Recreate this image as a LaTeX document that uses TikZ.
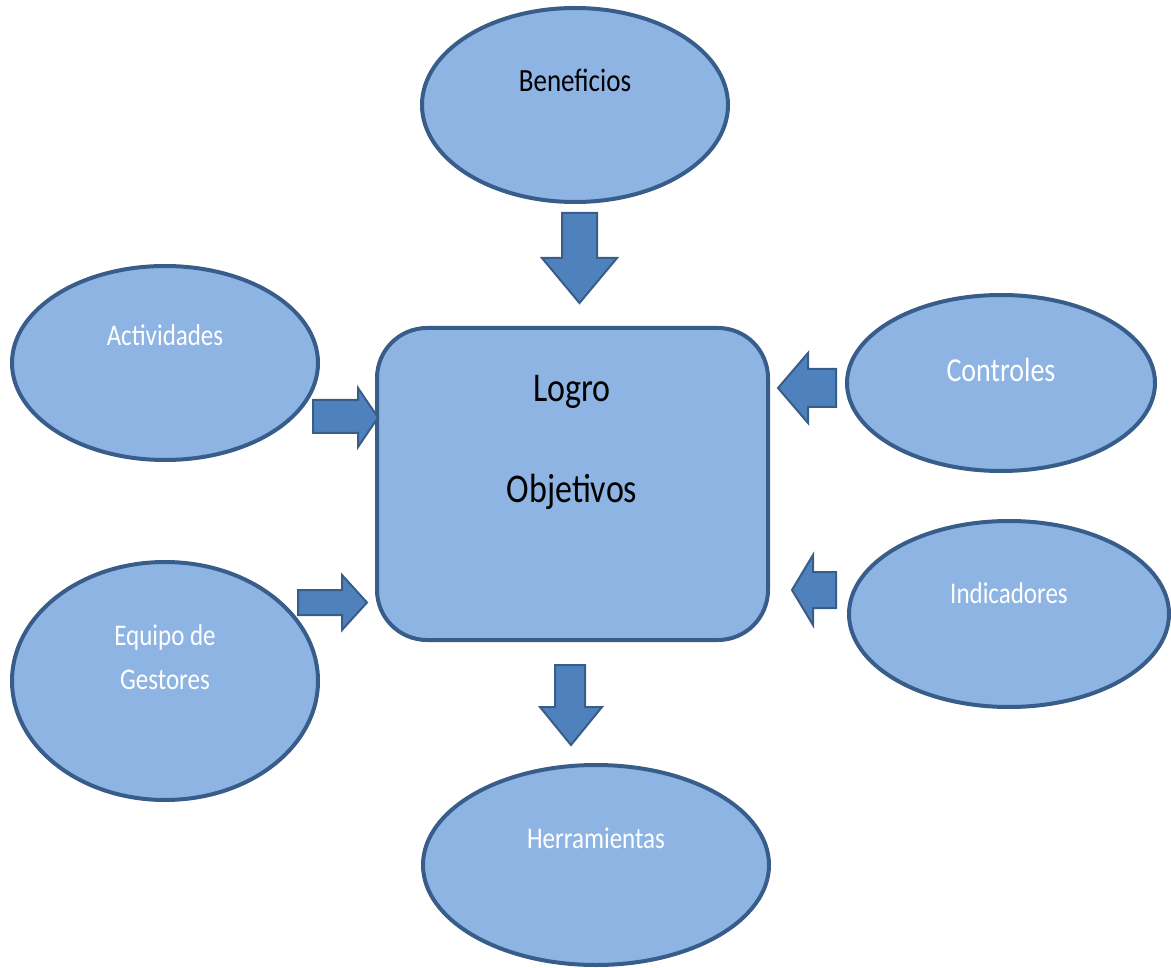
\documentclass[tikz,border=0pt]{standalone}
\usepackage{fontspec}
\setmainfont{Carlito}
\usetikzlibrary{shapes.geometric}
\definecolor{bubblefill}{HTML}{8EB4E3}
\definecolor{bubbleline}{HTML}{385D8A}
\definecolor{arrowfill}{HTML}{4F81BD}
\newcommand{\tall}[1]{\scalebox{1}[1.2]{#1}}
\tikzset{
  bubble/.style={ellipse, draw=bubbleline, fill=bubblefill, line width=4pt, inner sep=0pt},
  hub/.style={rectangle, rounded corners=50pt, draw=bubbleline, fill=bubblefill, line width=4pt, inner sep=0pt},
  whitetxt/.style={text=white, font=\fontsize{25}{30}\selectfont, align=center},
  blacktxt/.style={text=black, font=\fontsize{27}{32}\selectfont, align=center},
  hubtxt/.style={text=black, font=\fontsize{34}{40}\selectfont},
  blockarrow/.style={draw=bubbleline, fill=arrowfill, line width=2pt, line join=miter}
}
\begin{document}
\begin{tikzpicture}[x=1pt, y=-1pt]
\useasboundingbox (0,0) rectangle (1171,968);

% central box
\node[hub, minimum width=391pt, minimum height=312pt] (hub) at (572.5,484) {};
\node[hubtxt] (logro) at (572,392) {\tall{Logro}};
\node[hubtxt] (obj) at (572,492) {\tall{Objetivos}};

% surrounding ellipses
\node[bubble, minimum width=306pt, minimum height=194pt] (ben) at (575,105) {};
\node[blacktxt] (bent) at (575,80) {\tall{Beneficios}};

\node[bubble, minimum width=306pt, minimum height=194pt] (act) at (165,363) {};
\node[whitetxt] (actt) at (165,335) {\tall{Actividades}};

\node[bubble, minimum width=306pt, minimum height=238pt] (eq) at (165,681) {};
\node[whitetxt] (eqt1) at (165,637) {\tall{Equipo de}};
\node[whitetxt] (eqt2) at (165,680) {\tall{Gestores}};

\node[bubble, minimum width=308pt, minimum height=176pt] (con) at (1001,383) {};
\node[whitetxt, font=\fontsize{28}{32}\selectfont] (cont) at (1001,370) {\tall{Controles}};

\node[bubble, minimum width=320pt, minimum height=186pt] (ind) at (1009,614) {};
\node[whitetxt] (indt) at (1009,593) {\tall{Indicadores}};

\node[bubble, minimum width=346pt, minimum height=200pt] (her) at (596,865) {};
\node[whitetxt] (hert) at (596,838) {\tall{Herramientas}};

% block arrows
% Beneficios -> box
\draw[blockarrow] (562,213) -- (597,213) -- (597,258) -- (617,258) -- (579.5,303)
  -- (542,258) -- (562,258) -- cycle;
% Actividades -> box
\draw[blockarrow] (313,400) -- (358,400) -- (358,388) -- (378,417.5) -- (358,447)
  -- (358,433) -- (313,433) -- cycle;
% Equipo de Gestores -> box
\draw[blockarrow] (298,590) -- (342,590) -- (342,575) -- (367,602.5) -- (342,630)
  -- (342,615) -- (298,615) -- cycle;
% Controles -> box
\draw[blockarrow] (836,369) -- (808,369) -- (808,353) -- (778,388) -- (808,423)
  -- (808,407) -- (836,407) -- cycle;
% Indicadores -> box
\draw[blockarrow] (836,572) -- (813,572) -- (813,555) -- (792,590) -- (813,625)
  -- (813,608) -- (836,608) -- cycle;
% box -> Herramientas
\draw[blockarrow] (555,665) -- (585,665) -- (585,707) -- (602,707) -- (571,745)
  -- (540,707) -- (555,707) -- cycle;
\end{tikzpicture}
\end{document}
